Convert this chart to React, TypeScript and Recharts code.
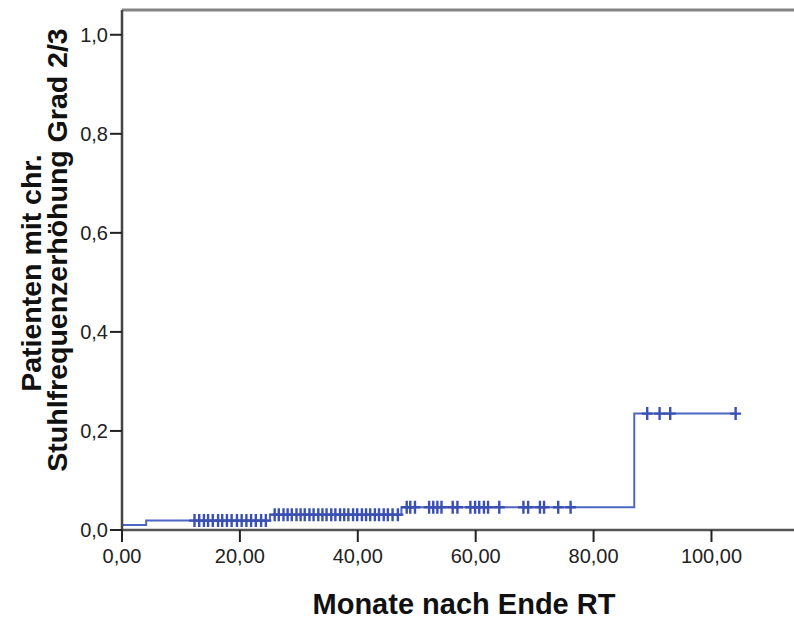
import React from 'react';
import { ComposedChart, Line, Scatter, XAxis, YAxis, ReferenceLine } from 'recharts';

// Event times (months) and cumulative proportion after each event
const eventTimes = [0, 4.1, 25.1, 47.4, 86.9];
const eventLevels = [0.01, 0.019, 0.031, 0.046, 0.235];
const lastFollowUp = 104.1;

// Censored observations (months)
const censorTimes = [
  12.3, 13.1, 13.9, 14.6, 15.4, 16.3, 17.0, 17.8, 18.6, 19.5, 20.3, 21.1, 21.9, 22.7, 23.6, 24.4,
  25.9, 26.6, 27.4, 28.1, 28.8, 29.6, 30.3, 31.0, 31.8, 32.5, 33.3, 34.0, 34.7, 35.5, 36.2,
  37.0, 37.7, 38.4, 39.2, 39.9, 40.7, 41.4, 42.1, 42.9, 43.6, 44.4, 45.1, 45.9, 46.8,
  48.3, 48.9, 49.7, 52.1, 52.8, 53.5, 54.2, 56.1, 56.9, 59.1, 59.9, 60.6, 61.4, 62.1, 64.0,
  68.1, 68.9, 70.9, 71.6, 74.0, 76.1,
  89.1, 91.2, 93.0, 104.1,
];

const xTicks = [0, 20, 40, 60, 80, 100];
const yTicks = [0, 0.2, 0.4, 0.6, 0.8, 1.0];

const xTitle = 'Monate nach Ende RT';
const yTitleLines = ['Patienten mit chr.', 'Stuhlfrequenzerhöhung Grad 2/3'];

const levelAt = (t: number) => {
  let v = eventLevels[0];
  for (let i = 0; i < eventTimes.length; i++) if (eventTimes[i] <= t) v = eventLevels[i];
  return v;
};

const curve = [
  ...eventTimes.map((t, i) => ({ t, v: eventLevels[i] })),
  { t: lastFollowUp, v: eventLevels[eventLevels.length - 1] },
];
const censored = censorTimes.map((t) => ({ t, v: levelAt(t) }));

const FONT = '"Liberation Sans", Arial, sans-serif';
const LINE = '#4d66c2';
const MARK = '#3a50b2';

const Plus = (props: any) => {
  const { cx, cy } = props;
  if (cx == null || cy == null) return null;
  return (
    <path
      d={`M${cx - 5.5},${cy}h11M${cx},${cy - 6.5}v13`}
      stroke={MARK}
      strokeWidth={2.4}
      fill="none"
    />
  );
};

const YTitle = (props: any) => {
  const vb = props.viewBox || { x: 0, y: 10, width: 122, height: 520 };
  const mid = vb.y + vb.height / 2;
  const xs = [41, 67];
  const cys = [mid + 3, mid - 20];
  return (
    <g>
      {yTitleLines.map((s, i) => (
        <text
          key={i}
          x={xs[i]}
          y={cys[i]}
          transform={`rotate(-90 ${xs[i]} ${cys[i]})`}
          textAnchor="middle"
          fontFamily={FONT}
          fontWeight="bold"
          fontSize={28.5}
          fill="#111"
        >
          {s}
        </text>
      ))}
    </g>
  );
};

const XTitle = (props: any) => {
  const vb = props.viewBox || { x: 122, y: 530, width: 672, height: 89 };
  const cx = vb.x + vb.width / 2 + 6;
  return (
    <text
      x={cx}
      y={614}
      textAnchor="middle"
      fontFamily={FONT}
      fontWeight="bold"
      fontSize={29}
      fill="#111"
    >
      {xTitle}
    </text>
  );
};

export default function App() {
  return (
    <div style={{ position: 'absolute', left: 0, top: 0, width: 794, height: 619, background: '#fff' }}>
      <ComposedChart width={794} height={619} margin={{ top: 10, right: 0, bottom: 0, left: 0 }}>
        <XAxis
          dataKey="t"
          type="number"
          domain={[0, 114]}
          ticks={xTicks}
          allowDataOverflow
          height={89}
          tickFormatter={(v: number) => v.toFixed(2).replace('.', ',')}
          tick={{ fontFamily: FONT, fontSize: 20, fill: '#222' }}
          tickSize={12}
          tickMargin={7}
          axisLine={{ stroke: '#555', strokeWidth: 2.5 }}
          tickLine={{ stroke: '#222', strokeWidth: 2 }}
          label={{ content: XTitle }}
        />
        <YAxis
          type="number"
          domain={[0, 1.05]}
          ticks={yTicks}
          allowDataOverflow
          width={122}
          tickFormatter={(v: number) => v.toFixed(1).replace('.', ',')}
          tick={{ fontFamily: FONT, fontSize: 20, fill: '#222' }}
          tickSize={12}
          tickMargin={2}
          axisLine={{ stroke: '#444', strokeWidth: 2.5 }}
          tickLine={{ stroke: '#222', strokeWidth: 2 }}
          label={{ content: YTitle }}
        />
        <ReferenceLine y={1.05} stroke="#858585" strokeWidth={3} />
        <Line
          data={curve}
          dataKey="v"
          type="stepAfter"
          stroke={LINE}
          strokeWidth={2}
          dot={false}
          activeDot={false}
          isAnimationActive={false}
        />
        <Scatter data={censored} dataKey="v" shape={Plus} isAnimationActive={false} />
      </ComposedChart>
    </div>
  );
}
